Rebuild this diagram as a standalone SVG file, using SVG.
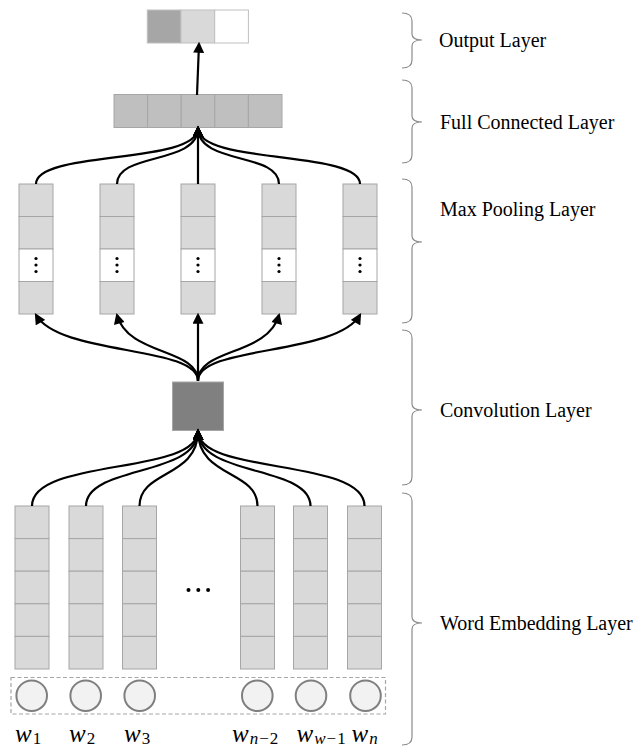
<svg xmlns="http://www.w3.org/2000/svg" width="639" height="747" viewBox="0 0 639 747">
<style>
.cell{fill:#d9d9d9;stroke:#a6a6a6;stroke-width:1}
.wcell{fill:#ffffff;stroke:#a6a6a6;stroke-width:1}
.fc{fill:#bfbfbf;stroke:#a6a6a6;stroke-width:1}
.conn{fill:none;stroke:#000;stroke-width:2.2;marker-end:url(#ah)}
.brace{fill:none;stroke:#8c8c8c;stroke-width:1.2}
.lbl{font-family:"Liberation Serif","Times New Roman",serif;font-size:20px;fill:#000}
.w{font-family:"Liberation Serif","Times New Roman",serif;font-size:25px;font-style:italic;fill:#000}
.sub{font-size:17px}
.up{font-style:normal}
.tok{fill:#f2f2f2;stroke:#7f7f7f;stroke-width:2}
.dot{fill:#000}
</style>
<defs>
<marker id="ah" viewBox="0 0 10 10" refX="8" refY="5" markerWidth="12" markerHeight="11" markerUnits="userSpaceOnUse" orient="auto">
<path d="M0,0 L10,5 L0,10 z" fill="#000"/>
</marker>
</defs>

<g id="output-layer">
<rect x="147.3" y="10" width="33.7" height="33" fill="#a6a6a6" stroke="#bfbfbf"/>
<rect x="181" y="10" width="33.7" height="33" fill="#d9d9d9" stroke="#bfbfbf"/>
<rect x="214.7" y="10" width="33.7" height="33" fill="#ffffff" stroke="#bfbfbf"/>
</g>

<g id="fc-layer">
<rect class="fc" x="114" y="94.5" width="33.6" height="33"/>
<rect class="fc" x="147.6" y="94.5" width="33.6" height="33"/>
<rect class="fc" x="181.2" y="94.5" width="33.6" height="33"/>
<rect class="fc" x="214.8" y="94.5" width="33.6" height="33"/>
<rect class="fc" x="248.4" y="94.5" width="33.6" height="33"/>
</g>

<g id="maxpool-1">
<rect class="cell" x="19" y="184" width="34" height="32.5"/>
<rect class="cell" x="19" y="216.5" width="34" height="32.5"/>
<rect class="wcell" x="19" y="249" width="34" height="32.5"/>
<rect class="cell" x="19" y="281.5" width="34" height="32.5"/>
<circle class="dot" cx="36" cy="258.5" r="1.6"/><circle class="dot" cx="36" cy="265" r="1.6"/><circle class="dot" cx="36" cy="271.5" r="1.6"/>
</g>
<g id="maxpool-2">
<rect class="cell" x="100" y="184" width="34" height="32.5"/>
<rect class="cell" x="100" y="216.5" width="34" height="32.5"/>
<rect class="wcell" x="100" y="249" width="34" height="32.5"/>
<rect class="cell" x="100" y="281.5" width="34" height="32.5"/>
<circle class="dot" cx="117" cy="258.5" r="1.6"/><circle class="dot" cx="117" cy="265" r="1.6"/><circle class="dot" cx="117" cy="271.5" r="1.6"/>
</g>
<g id="maxpool-3">
<rect class="cell" x="181" y="184" width="34" height="32.5"/>
<rect class="cell" x="181" y="216.5" width="34" height="32.5"/>
<rect class="wcell" x="181" y="249" width="34" height="32.5"/>
<rect class="cell" x="181" y="281.5" width="34" height="32.5"/>
<circle class="dot" cx="198" cy="258.5" r="1.6"/><circle class="dot" cx="198" cy="265" r="1.6"/><circle class="dot" cx="198" cy="271.5" r="1.6"/>
</g>
<g id="maxpool-4">
<rect class="cell" x="262" y="184" width="34" height="32.5"/>
<rect class="cell" x="262" y="216.5" width="34" height="32.5"/>
<rect class="wcell" x="262" y="249" width="34" height="32.5"/>
<rect class="cell" x="262" y="281.5" width="34" height="32.5"/>
<circle class="dot" cx="279" cy="258.5" r="1.6"/><circle class="dot" cx="279" cy="265" r="1.6"/><circle class="dot" cx="279" cy="271.5" r="1.6"/>
</g>
<g id="maxpool-5">
<rect class="cell" x="343" y="184" width="34" height="32.5"/>
<rect class="cell" x="343" y="216.5" width="34" height="32.5"/>
<rect class="wcell" x="343" y="249" width="34" height="32.5"/>
<rect class="cell" x="343" y="281.5" width="34" height="32.5"/>
<circle class="dot" cx="360" cy="258.5" r="1.6"/><circle class="dot" cx="360" cy="265" r="1.6"/><circle class="dot" cx="360" cy="271.5" r="1.6"/>
</g>

<g id="convolution">
<rect x="172.5" y="382" width="51" height="48.5" fill="#808080" stroke="#a6a6a6" stroke-width="1"/>
</g>

<g id="embed-1">
<rect class="cell" x="15" y="506" width="34" height="32.6"/>
<rect class="cell" x="15" y="538.6" width="34" height="32.6"/>
<rect class="cell" x="15" y="571.2" width="34" height="32.6"/>
<rect class="cell" x="15" y="603.8" width="34" height="32.6"/>
<rect class="cell" x="15" y="636.4" width="34" height="32.6"/>
</g>
<g id="embed-2">
<rect class="cell" x="69" y="506" width="34" height="32.6"/>
<rect class="cell" x="69" y="538.6" width="34" height="32.6"/>
<rect class="cell" x="69" y="571.2" width="34" height="32.6"/>
<rect class="cell" x="69" y="603.8" width="34" height="32.6"/>
<rect class="cell" x="69" y="636.4" width="34" height="32.6"/>
</g>
<g id="embed-3">
<rect class="cell" x="122.5" y="506" width="34" height="32.6"/>
<rect class="cell" x="122.5" y="538.6" width="34" height="32.6"/>
<rect class="cell" x="122.5" y="571.2" width="34" height="32.6"/>
<rect class="cell" x="122.5" y="603.8" width="34" height="32.6"/>
<rect class="cell" x="122.5" y="636.4" width="34" height="32.6"/>
</g>
<g id="embed-n-2">
<rect class="cell" x="240.5" y="506" width="34" height="32.6"/>
<rect class="cell" x="240.5" y="538.6" width="34" height="32.6"/>
<rect class="cell" x="240.5" y="571.2" width="34" height="32.6"/>
<rect class="cell" x="240.5" y="603.8" width="34" height="32.6"/>
<rect class="cell" x="240.5" y="636.4" width="34" height="32.6"/>
</g>
<g id="embed-w-1">
<rect class="cell" x="293.5" y="506" width="34" height="32.6"/>
<rect class="cell" x="293.5" y="538.6" width="34" height="32.6"/>
<rect class="cell" x="293.5" y="571.2" width="34" height="32.6"/>
<rect class="cell" x="293.5" y="603.8" width="34" height="32.6"/>
<rect class="cell" x="293.5" y="636.4" width="34" height="32.6"/>
</g>
<g id="embed-n">
<rect class="cell" x="347.5" y="506" width="34" height="32.6"/>
<rect class="cell" x="347.5" y="538.6" width="34" height="32.6"/>
<rect class="cell" x="347.5" y="571.2" width="34" height="32.6"/>
<rect class="cell" x="347.5" y="603.8" width="34" height="32.6"/>
<rect class="cell" x="347.5" y="636.4" width="34" height="32.6"/>
</g>

<g id="ellipsis">
<circle class="dot" cx="188.5" cy="590" r="2"/>
<circle class="dot" cx="198.3" cy="590" r="2"/>
<circle class="dot" cx="208.1" cy="590" r="2"/>
</g>

<g id="input-tokens">
<rect x="11" y="677.5" width="374.5" height="36.5" fill="none" stroke="#a6a6a6" stroke-width="1.2" stroke-dasharray="4,2.5"/>
<circle class="tok" cx="31.7" cy="695.7" r="15.3"/>
<circle class="tok" cx="85.7" cy="695.7" r="15.3"/>
<circle class="tok" cx="139.7" cy="695.7" r="15.3"/>
<circle class="tok" cx="257.3" cy="695.7" r="15.3"/>
<circle class="tok" cx="311" cy="695.7" r="15.3"/>
<circle class="tok" cx="365.5" cy="695.7" r="15.3"/>
</g>

<g id="word-labels">
<text class="w" x="15" y="741.5">w<tspan class="sub up" dx="1" dy="2">1</tspan></text>
<text class="w" x="69" y="741.5">w<tspan class="sub up" dx="1" dy="2">2</tspan></text>
<text class="w" x="124" y="741.5">w<tspan class="sub up" dx="1" dy="2">3</tspan></text>
<text class="w" x="232" y="741.5">w<tspan class="sub" dx="1" dy="2">n</tspan><tspan class="sub up" dx="1">−</tspan><tspan class="sub up" dx="1">2</tspan></text>
<text class="w" x="296.5" y="741.5">w<tspan class="sub" dx="1" dy="2">w</tspan><tspan class="sub up" dx="1">−</tspan><tspan class="sub up" dx="1">1</tspan></text>
<text class="w" x="351.5" y="741.5">w<tspan class="sub" dx="1" dy="2">n</tspan></text>
</g>

<g id="connectors">
<path class="conn" d="M197,95 L199,44"/>
<path class="conn" d="M36,184 C36,150 198,165 198,128"/>
<path class="conn" d="M117,184 C117,152 198,165 198,128"/>
<path class="conn" d="M198,184 L198,128"/>
<path class="conn" d="M279,184 C279,152 198,165 198,128"/>
<path class="conn" d="M360,184 C360,150 198,165 198,128"/>
<path class="conn" d="M198,381 C198,345 60,356 36,315"/>
<path class="conn" d="M198,381 C198,348 128,356 117,315"/>
<path class="conn" d="M198,381 L198,315"/>
<path class="conn" d="M198,381 C198,348 268,356 279,315"/>
<path class="conn" d="M198,381 C198,345 336,356 360,315"/>
<path class="conn" d="M32,506 C32,458 198,475 198,431"/>
<path class="conn" d="M86,506 C86,465 198,477 198,431"/>
<path class="conn" d="M139.5,506 C139.5,470 198,478 198,431"/>
<path class="conn" d="M257.5,506 C257.5,470 198,478 198,431"/>
<path class="conn" d="M310.5,506 C310.5,465 198,477 198,431"/>
<path class="conn" d="M364.5,506 C364.5,458 198,475 198,431"/>
</g>

<g id="braces">
<path class="brace" d="M402,13 Q412,13 412,21 L412,34 Q412,40 422,40 Q412,40 412,46 L412,60 Q412,68 402,68"/>
<path class="brace" d="M402,80 Q412,80 412,88 L412,116 Q412,122 422,122 Q412,122 412,128 L412,155 Q412,163 402,163"/>
<path class="brace" d="M402,179 Q412,179 412,187 L412,236 Q412,242 422,242 Q412,242 412,248 L412,315 Q412,323 402,323"/>
<path class="brace" d="M402,330 Q412,330 412,338 L412,404 Q412,410 422,410 Q412,410 412,416 L412,477 Q412,485 402,485"/>
<path class="brace" d="M402,493 Q412,493 412,501 L412,617 Q412,623 422,623 Q412,623 412,629 L412,737 Q412,745 402,745"/>
</g>

<g id="labels">
<text class="lbl" x="439" y="46.5">Output Layer</text>
<text class="lbl" x="440" y="129">Full Connected Layer</text>
<text class="lbl" x="440" y="216">Max Pooling Layer</text>
<text class="lbl" x="440" y="416.5">Convolution Layer</text>
<text class="lbl" x="440" y="630">Word Embedding Layer</text>
</g>
</svg>
